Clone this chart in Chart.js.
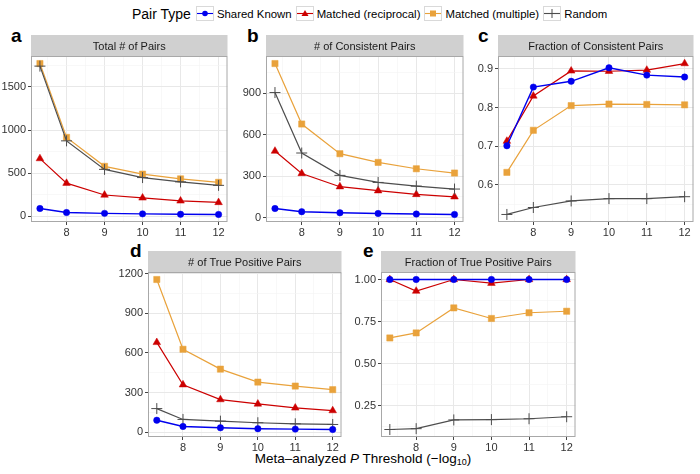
<!DOCTYPE html>
<html>
<head>
<meta charset="utf-8">
<script src="https://cdn.jsdelivr.net/npm/chart.js@4"></script>
<style>
body { margin: 0; width: 700px; height: 474px; position: relative; background: #fff; overflow: hidden;
       font-family: "Liberation Sans", Arial, sans-serif; color: #000; }
canvas { position: absolute; }
.tag { position: absolute; font-weight: bold; font-size: 19px; line-height: 19px; }
#legend { position: absolute; left: 132px; top: 5px; height: 17px; display: flex; align-items: center; }
#legend .ltitle { font-size: 14px; margin-right: 5px; }
#legend .key { width: 18px; height: 15px; margin-right: 3px; }
#legend .lab { font-size: 11.4px; margin-right: 4px; }
#xtitle { position: absolute; left: 13px; width: 700px; top: 451px; text-align: center; font-size: 13.5px; line-height: 15px; }
#xtitle sub { font-size: 9px; vertical-align: -2px; }
</style>
</head>
<body>
<div id="legend"><span class="ltitle">Pair Type</span></div>
<div class="tag" style="left:11px;top:26px">a</div>
<div class="tag" style="left:247px;top:26px">b</div>
<div class="tag" style="left:478px;top:26px">c</div>
<div class="tag" style="left:130px;top:241px">d</div>
<div class="tag" style="left:363px;top:241px">e</div>
<div id="xtitle">Meta&#8211;analyzed <i>P</i> Threshold (&#8722;log<sub>10</sub>)</div>
<script>
// x values: -log10 of the meta-analysis P threshold
const thresholds = [7.3, 8, 9, 10, 11, 12];
const pairTypes = ['Shared Known', 'Matched (reciprocal)', 'Matched (multiple)', 'Random'];

// one row per pair type, same order as pairTypes
const totalPairs = [
    [92, 45, 36, 30, 25, 23],
    [670, 385, 248, 215, 180, 162],
    [1770, 915, 580, 490, 435, 395],
    [1740, 875, 545, 450, 400, 360]
];
const consistentPairs = [
    [65, 42, 34, 29, 25, 22],
    [481, 319, 223, 194, 167, 150],
    [1115, 677, 462, 399, 353, 322],
    [905, 467, 305, 254, 227, 206]
];
const fractionConsistent = [
    [0.701, 0.853, 0.868, 0.903, 0.884, 0.879],
    [0.713, 0.830, 0.895, 0.894, 0.897, 0.914],
    [0.632, 0.741, 0.805, 0.809, 0.808, 0.807],
    [0.523, 0.541, 0.558, 0.564, 0.564, 0.569]
];
const truePositivePairs = [
    [92, 45, 35, 28, 25, 22],
    [680, 360, 248, 215, 185, 165],
    [1155, 628, 478, 380, 350, 323],
    [180, 98, 85, 73, 65, 60]
];
const fractionTruePositive = [
    [1, 1, 1, 1, 1, 1],
    [1, 0.931, 1, 0.978, 1, 1],
    [0.652, 0.682, 0.831, 0.768, 0.802, 0.811],
    [0.107, 0.112, 0.164, 0.166, 0.171, 0.183]
];

const xTicks = [8, 9, 10, 11, 12];
const xMinor = [7.5, 8.5, 9.5, 10.5, 11.5];
const totalTicks = [0, 500, 1000, 1500];
const totalMinor = [250, 750, 1250, 1750];
const countTicks = [0, 300, 600, 900];
const countMinor = [150, 450, 750, 1050];
const tpTicks = [0, 300, 600, 900, 1200];
const fracCTicks = [0.6, 0.7, 0.8, 0.9];
const fracCMinor = [0.55, 0.65, 0.75, 0.85];
const fracTTicks = [0.25, 0.5, 0.75, 1];
const fracTMinor = [0.125, 0.375, 0.625, 0.875];

const seriesColors = ['#0000ee', '#cc0000', '#e9a23b', '#4d4d4d'];
const seriesPoints = ['circle', 'triangle', 'rect', 'cross'];
const seriesRadius = [3.2, 4.4, 4.4, 5.5];
const seriesOrder = [0, 2, 3, 1];
const fontFamily = '"Liberation Sans", Arial, sans-serif';

// legend keys
const legendEl = document.getElementById('legend');
const keyShapes = [
    '<circle cx="9" cy="7.5" r="2.8" fill="C"/>',
    '<polygon points="9,4 12.5,10 5.5,10" fill="C"/>',
    '<rect x="6" y="4.5" width="6" height="6" fill="C"/>',
    '<path d="M9 3 V12" stroke="C" stroke-width="1"/>'
];
pairTypes.forEach((name, i) => {
    const c = seriesColors[i];
    const svg = `<svg class="key" viewBox="0 0 18 15"><rect x="0.5" y="0.5" width="17" height="14" fill="#fff" stroke="#d9d9d9"/>
        <path d="M1 7.5 H17" stroke="${c}" stroke-width="1.1"/>${keyShapes[i].replace(/C/g, c)}</svg>`;
    legendEl.insertAdjacentHTML('beforeend', svg + `<span class="lab">${name}</span>`);
});

function expand(rows) {
    const all = rows.flat();
    const lo = Math.min(...all), hi = Math.max(...all);
    const pad = (hi - lo) * 0.05;
    return [lo - pad, hi + pad];
}

const panelFrame = {
    id: 'panelFrame',
    beforeDraw(chart, args, opts) {
        const { ctx, chartArea: a } = chart;
        ctx.save();
        ctx.fillStyle = '#d0d0d0';
        ctx.fillRect(a.left, 0, a.right - a.left, a.top);
        ctx.fillStyle = '#1a1a1a';
        ctx.font = '11px ' + fontFamily;
        ctx.textAlign = 'center';
        ctx.textBaseline = 'middle';
        ctx.fillText(opts.title, (a.left + a.right) / 2, a.top / 2 + 1);
        ctx.restore();
    },
    afterDraw(chart) {
        const { ctx, chartArea: a } = chart;
        ctx.save();
        ctx.strokeStyle = '#a8a8a8';
        ctx.lineWidth = 1;
        ctx.strokeRect(a.left + 0.5, a.top + 0.5, a.right - a.left - 1, a.bottom - a.top - 1);
        ctx.restore();
    }
};

function axisOpts(major, minor, min, max, fmt, isX) {
    const isMajor = v => major.includes(v);
    const o = {
        type: 'linear', min, max,
        afterBuildTicks: ax => { ax.ticks = major.concat(minor).sort((a, b) => a - b).map(v => ({ value: v })); },
        ticks: {
            autoSkip: false, maxRotation: 0, padding: isX ? 1 : 2, color: '#333',
            font: { size: 11, family: fontFamily },
            callback: v => isMajor(v) ? fmt(v) : ''
        },
        grid: {
            color: c => (c.tick && isMajor(c.tick.value)) ? '#e8e8e8' : '#f4f4f4',
            lineWidth: c => (c.tick && isMajor(c.tick.value)) ? 1 : 0.6,
            tickLength: 3,
            tickColor: c => (c.tick && isMajor(c.tick.value)) ? '#444' : 'rgba(0,0,0,0)'
        },
        border: { display: false }
    };
    if (isX) o.afterFit = ax => { ax.height = 18; };
    else o.afterFit = ax => { ax.width = 34; };
    return o;
}

const panels = [
    { title: 'Total # of Pairs', rows: totalPairs, ticks: totalTicks, minor: totalMinor, fmt: v => String(v),
      l: 31, r: 233, strip: 35, t: 56, b: 222 },
    { title: '# of Consistent Pairs', rows: consistentPairs, ticks: countTicks, minor: countMinor, fmt: v => String(v),
      l: 266, r: 469, strip: 35, t: 56, b: 222 },
    { title: 'Fraction of Consistent Pairs', rows: fractionConsistent, ticks: fracCTicks, minor: fracCMinor, fmt: v => v.toFixed(1),
      l: 498, r: 699, strip: 35, t: 56, b: 222 },
    { title: '# of True Positive Pairs', rows: truePositivePairs, ticks: tpTicks, minor: countMinor, fmt: v => String(v),
      l: 148, r: 347, strip: 251, t: 272, b: 437 },
    { title: 'Fraction of True Positive Pairs', rows: fractionTruePositive, ticks: fracTTicks, minor: fracTMinor, fmt: v => v.toFixed(2),
      l: 381, r: 581, strip: 251, t: 272, b: 437 }
];

const xRange = expand([thresholds]);

panels.forEach(p => {
    const cv = document.createElement('canvas');
    cv.width = p.r - p.l + 34 + 1;
    cv.height = p.b - p.strip + 18;
    cv.style.left = (p.l - 34) + 'px';
    cv.style.top = p.strip + 'px';
    document.body.appendChild(cv);

    const [yMin, yMax] = expand(p.rows);
    new Chart(cv, {
        type: 'line',
        data: {
            datasets: pairTypes.map((name, i) => ({
                label: name,
                data: thresholds.map((x, j) => ({ x, y: p.rows[i][j] })),
                borderColor: seriesColors[i],
                backgroundColor: seriesColors[i],
                borderWidth: i === 0 ? 1.4 : 1.2,
                pointStyle: seriesPoints[i],
                pointRadius: seriesRadius[i],
                pointBorderWidth: i === 3 ? 1 : 0.5,
                order: seriesOrder[i],
                tension: 0,
                clip: false
            }))
        },
        options: {
            responsive: false,
            animation: false,
            devicePixelRatio: 1,
            layout: { padding: { top: p.t - p.strip, right: 1, left: 0, bottom: 0 } },
            plugins: {
                legend: { display: false },
                tooltip: { enabled: false },
                panelFrame: { title: p.title }
            },
            scales: {
                x: axisOpts(xTicks, xMinor, xRange[0], xRange[1], v => String(v), true),
                y: axisOpts(p.ticks, p.minor, yMin, yMax, p.fmt, false)
            }
        },
        plugins: [panelFrame]
    });
});
</script>
</body>
</html>
